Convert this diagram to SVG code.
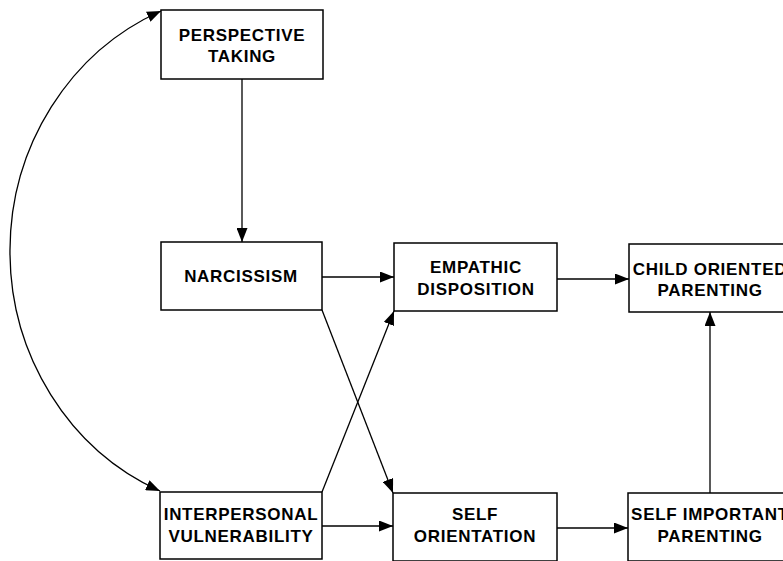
<svg xmlns="http://www.w3.org/2000/svg" width="783" height="561" viewBox="0 0 783 561">
<defs>
<marker id="ah" viewBox="0 0 14 11" markerUnits="userSpaceOnUse" markerWidth="14" markerHeight="11" refX="14" refY="5.5" orient="auto-start-reverse">
<path d="M0,0 L14,5.5 L0,11 z" fill="#000"/>
</marker>
<style>
.box{fill:#fff;stroke:#000;stroke-width:1.5}
.lbl{font-family:"Liberation Sans",Arial,sans-serif;font-weight:bold;font-size:17px;letter-spacing:0.7px;text-anchor:middle;fill:#000}
.c{fill:none;stroke:#000;stroke-width:1.3;marker-end:url(#ah)}
</style>
</defs>
<rect width="783" height="561" fill="#fff"/>
<g id="connectors">
<path class="c" d="M242,79 L242,242"/>
<path class="c" d="M322,277 L394,277"/>
<path class="c" d="M557,279 L629,279"/>
<path class="c" d="M322,310 L393,493"/>
<path class="c" d="M322,492 L394,311"/>
<path class="c" d="M322,526 L393,526"/>
<path class="c" d="M557,528 L628,528"/>
<path class="c" d="M710,493 L710,312"/>
<path class="c" style="marker-start:url(#ah)" d="M161,11 A248 261 0 0 0 160,491"/>
</g>
<g id="perspective-taking">
<rect class="box" x="161" y="10" width="162" height="69"/>
<text class="lbl" x="242" y="41">PERSPECTIVE</text>
<text class="lbl" x="242" y="62">TAKING</text>
</g>
<g id="narcissism">
<rect class="box" x="161" y="242" width="161" height="68"/>
<text class="lbl" x="241" y="282">NARCISSISM</text>
</g>
<g id="empathic-disposition">
<rect class="box" x="394" y="243" width="163" height="68"/>
<text class="lbl" x="476" y="273">EMPATHIC</text>
<text class="lbl" x="476" y="295">DISPOSITION</text>
</g>
<g id="child-oriented-parenting">
<rect class="box" x="629" y="244" width="162" height="68"/>
<text class="lbl" x="710" y="275">CHILD ORIENTED</text>
<text class="lbl" x="710" y="296">PARENTING</text>
</g>
<g id="interpersonal-vulnerability">
<rect class="box" x="160" y="492" width="162" height="67"/>
<text class="lbl" x="241" y="520">INTERPERSONAL</text>
<text class="lbl" x="241" y="542">VULNERABILITY</text>
</g>
<g id="self-orientation">
<rect class="box" x="393" y="493" width="164" height="68"/>
<text class="lbl" x="475" y="520">SELF</text>
<text class="lbl" x="475" y="542">ORIENTATION</text>
</g>
<g id="self-important-parenting">
<rect class="box" x="628" y="493" width="164" height="68"/>
<text class="lbl" x="710" y="520">SELF IMPORTANT</text>
<text class="lbl" x="710" y="542">PARENTING</text>
</g>
</svg>
